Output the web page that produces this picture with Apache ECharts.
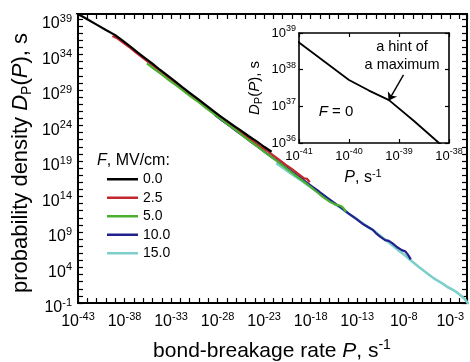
<!DOCTYPE html>
<html><head><meta charset="utf-8">
<script src="https://cdn.jsdelivr.net/npm/echarts@6/dist/echarts.min.js"></script>
<style>html,body{margin:0;padding:0;background:#fff}#c{width:470px;height:362px}</style>
</head><body><div id="c"></div>
<script>
const FONT = '"Liberation Sans", Arial, sans-serif';

// Field strengths (legend) and colours
const fieldLabels = ['0.0', '2.5', '5.0', '10.0', '15.0'];
const fieldColors = ['#000000', '#c1272d', '#4caf2f', '#22208c', '#7dcfcc'];

// log10 of bond-breakage rate P (s^-1) and log10 of D_P(P) (s), main panel
const logP_F0 = [-43.6, -43, -42, -41, -40, -39, -38.2, -37.4, -36.6, -35.8, -35, -34.2, -33.4, -32.6, -31.8, -31, -30.2, -29.4, -28.6, -27.8, -27, -26.2, -25.4, -24.6, -23.8, -23, -22.6, -22.2];
const logD_F0 = [40.15, 39.7, 38.95, 38.2, 37.45, 36.72, 35.95, 35.15, 34.3, 33.5, 32.7, 31.85, 31.05, 30.25, 29.4, 28.6, 27.8, 27.0, 26.2, 25.4, 24.65, 23.9, 23.2, 22.45, 21.75, 21.0, 20.65, 20.3];

const logP_F25 = [-39.3, -38.8, -38.2, -37.5, -36.8, -36.1, -35.4, -34.7, -34, -33.3, -32.6, -31.9, -31.2, -30.5, -29.8, -29.1, -28.4, -27.7, -27, -26.3, -25.6, -24.9, -24.2, -23.5, -22.8, -22.1, -21.4, -20.7, -20, -19.3, -18.7, -18.4, -18.1];
const logD_F25 = [36.6, 36.3, 35.7, 35.05, 34.3, 33.6, 32.9, 32.2, 31.5, 30.8, 30.1, 29.4, 28.7, 27.95, 27.3, 26.6, 25.85, 25.2, 24.5, 23.85, 23.2, 22.45, 21.8, 21.1, 20.55, 19.85, 19.2, 18.5, 17.85, 17.15, 16.55, 16.5, 16.0];

const logP_F5 = [-35.6, -34.8, -34, -33.2, -32.4, -31.6, -30.8, -30, -29.2, -28.4, -27.6, -26.8, -26, -25.2, -24.4, -23.6, -22.8, -22, -21.2, -20.4, -19.6, -18.8, -18, -17.3, -16.7, -16, -15.3, -14.8, -14.5, -14.2];
const logD_F5 = [32.75, 31.95, 31.2, 30.35, 29.6, 28.8, 28.0, 27.25, 26.4, 25.65, 24.85, 24.05, 23.3, 22.45, 21.7, 20.9, 20.1, 19.35, 18.55, 17.75, 16.95, 16.15, 15.35, 14.6, 13.95, 13.3, 12.85, 12.7, 12.4, 11.85];

const logP_F10 = [-28.3, -27.5, -26.7, -25.9, -25.1, -24.3, -23.5, -22.7, -21.9, -21.1, -20.3, -19.5, -18.7, -17.9, -17.1, -16.3, -15.5, -14.7, -13.9, -13.1, -12.3, -11.7, -11.3, -11, -10.5, -10, -9.6, -9.2, -8.7, -8.2, -7.8, -7.5, -7.24];
const logD_F10 = [25.5, 24.7, 23.95, 23.15, 22.4, 21.6, 20.85, 20.05, 19.3, 18.55, 17.8, 17.0, 16.25, 15.45, 14.7, 13.9, 13.15, 12.4, 11.6, 10.85, 10.05, 9.6, 9.3, 8.85, 8.3, 7.85, 7.75, 7.4, 6.85, 6.45, 6.25, 5.7, 5.15];

const logP_F15 = [-21.7, -21, -20.3, -19.6, -18.9, -18.2, -17.5, -16.8, -16, -15.3, -14.6, -13.9, -13.2, -12.5, -11.8, -11.1, -10.6, -10, -9.3, -8.6, -7.9, -7.1, -6.4, -5.7, -5, -4.5, -3.9, -3.3, -2.7, -2.4, -2, -1.5, -1.2, -0.9];
const logD_F15 = [18.7, 18.05, 17.4, 16.75, 16.15, 15.5, 14.85, 14.25, 13.5, 12.85, 12.25, 11.55, 10.95, 10.3, 9.65, 9.05, 8.55, 7.95, 7.2, 6.45, 5.75, 4.85, 4.1, 3.4, 2.7, 2.25, 1.8, 1.25, 0.85, 0.6, 0.2, -0.35, -0.85, -1.4];

// Inset: F = 0 curve
const insetLogP = [-41.2, -41, -40.5, -40, -39.6, -39.2, -38.7, -38.2, -37.9];
const insetLogD = [38.95, 38.74, 38.23, 37.72, 37.43, 37.17, 36.6, 36.0, 35.7];

const seriesP = [logP_F0, logP_F25, logP_F5, logP_F10, logP_F15];
const seriesD = [logD_F0, logD_F25, logD_F5, logD_F10, logD_F15];
const seriesZ = [10, 8, 9, 7, 6];

// Tick labels (exponents of 10)
const xTickExps = [-43, -38, -33, -28, -23, -18, -13, -8, -3];
const yTickExps = [-1, 4, 9, 14, 19, 24, 29, 34, 39];
const insetXTickExps = [-41, -40, -39, -38];
const insetYTickExps = [36, 37, 38, 39];

// Arrow annotation in inset (data coords)
const arrowFrom = [-38.91, 37.86];
const arrowTo = [-39.21, 37.15];

function pairs(p, d) { return p.map((v, i) => [v, d[i]]); }
function powFmt(list) { return v => list.includes(v) ? '{b|10}{s|' + v + '}' : ''; }
function richPow(base, sup, lh, supLh) {
  return {
    b: { fontSize: base, lineHeight: lh, fontFamily: FONT, color: '#000' },
    s: { fontSize: sup, lineHeight: supLh, verticalAlign: 'top', fontFamily: FONT, color: '#000' }
  };
}
function richTitle(size, subSize) {
  return {
    n: { fontSize: size, fontFamily: FONT, color: '#000', lineHeight: size + 4 },
    i: { fontSize: size, fontFamily: FONT, color: '#000', fontStyle: 'italic', lineHeight: size + 4 },
    sub: { fontSize: subSize, fontFamily: FONT, color: '#000', verticalAlign: 'bottom', lineHeight: subSize - 2 },
    sup: { fontSize: subSize, fontFamily: FONT, color: '#000', verticalAlign: 'top', lineHeight: subSize + 4 }
  };
}

const tickStyle = len => ({ show: true, inside: true, length: len, lineStyle: { color: '#000', width: 1.2 } });
const axisLine = w => ({ show: true, onZero: false, lineStyle: { color: '#000', width: w } });

const chart = echarts.init(document.getElementById('c'), null, { renderer: 'canvas' });

const mainSeries = fieldLabels.map((name, i) => ({
  type: 'line', name, xAxisIndex: 0, yAxisIndex: 0,
  data: pairs(seriesP[i], seriesD[i]),
  symbol: 'none', showSymbol: false, color: fieldColors[i],
  lineStyle: { width: i === 4 ? 2.6 : 2.2, color: fieldColors[i] },
  z: seriesZ[i]
}));

const insetSeries = {
  type: 'line', name: 'inset F=0', xAxisIndex: 2, yAxisIndex: 2,
  data: pairs(insetLogP, insetLogD), symbol: 'none', showSymbol: false,
  color: '#000', lineStyle: { width: 1.8, color: '#000' }, z: 20,
  markLine: {
    silent: true, symbol: ['none', 'arrow'], symbolSize: 8, animation: false,
    label: { show: false },
    lineStyle: { color: '#000', width: 1.4, type: 'solid' },
    data: [[{ coord: arrowFrom }, { coord: arrowTo }]]
  }
};

const option = {
  animation: false,
  backgroundColor: '#fff',
  grid: [
    { left: 78, right: 2, top: 14, bottom: 59, show: false },
    { left: 299, top: 33, width: 150, height: 110, show: true, backgroundColor: '#fff', borderWidth: 0, z: 5 }
  ],
  xAxis: [
    { type: 'value', gridIndex: 0, position: 'bottom', min: -43, max: -1.2, interval: 1,
      axisLine: axisLine(2), axisTick: tickStyle(5), splitLine: { show: false },
      axisLabel: { show: true, margin: 8, formatter: powFmt(xTickExps), rich: richPow(16, 11, 22, 10) } },
    { type: 'value', gridIndex: 0, position: 'top', min: -43, max: -1.2, interval: 1,
      axisLine: axisLine(2), axisTick: tickStyle(5), splitLine: { show: false }, axisLabel: { show: false } },
    { type: 'value', gridIndex: 1, position: 'bottom', min: -41, max: -38, interval: 1, z: 6,
      axisLine: axisLine(1.6), axisTick: tickStyle(4), splitLine: { show: false },
      axisLabel: { show: true, margin: 4, formatter: powFmt(insetXTickExps), rich: richPow(13, 9, 18, 8) } },
    { type: 'value', gridIndex: 1, position: 'top', min: -41, max: -38, interval: 1, z: 6,
      axisLine: axisLine(1.6), axisTick: tickStyle(4), splitLine: { show: false }, axisLabel: { show: false } }
  ],
  yAxis: [
    { type: 'value', gridIndex: 0, position: 'left', min: -1, max: 39.7, interval: 1,
      axisLine: axisLine(2), axisTick: tickStyle(5), splitLine: { show: false },
      axisLabel: { show: true, margin: 6, padding: [10, 0, 0, 0], formatter: powFmt(yTickExps), rich: richPow(16, 11, 22, 10) } },
    { type: 'value', gridIndex: 0, position: 'right', min: -1, max: 39.7, interval: 1,
      axisLine: axisLine(2), axisTick: tickStyle(5), splitLine: { show: false }, axisLabel: { show: false } },
    { type: 'value', gridIndex: 1, position: 'left', min: 36, max: 39, interval: 1, z: 6,
      axisLine: axisLine(1.6), axisTick: tickStyle(4), splitLine: { show: false },
      axisLabel: { show: true, margin: 3, formatter: powFmt(insetYTickExps), rich: richPow(13, 9, 18, 8) } },
    { type: 'value', gridIndex: 1, position: 'right', min: 36, max: 39, interval: 1, z: 6,
      axisLine: axisLine(1.6), axisTick: tickStyle(4), splitLine: { show: false }, axisLabel: { show: false } }
  ],
  legend: {
    data: fieldLabels, orient: 'vertical', left: 107, top: 170, padding: 0,
    itemWidth: 31, itemHeight: 2.5, itemGap: 0, icon: 'rect',
    textStyle: { fontSize: 14, lineHeight: 18.5, fontFamily: FONT, color: '#000' }
  },
  graphic: [
    { type: 'text', x: 21, y: 163, rotation: Math.PI / 2, z: 50,
      style: { text: '{n|probability density }{i|D}{sub|P}{n|(}{i|P}{n|), s}', rich: richTitle(22, 14), align: 'center', verticalAlign: 'middle' } },
    { type: 'text', x: 272, y: 351, z: 50,
      style: { text: '{n|bond-breakage rate }{i|P}{n|, s}{sup|-1}', rich: richTitle(21, 14), align: 'center', verticalAlign: 'middle' } },
    { type: 'text', x: 97, y: 161, z: 50,
      style: { text: '{i|F}{n|, MV/cm:}', rich: richTitle(16, 11), align: 'left', verticalAlign: 'middle' } },
    { type: 'text', x: 255, y: 88, rotation: Math.PI / 2, z: 50,
      style: { text: '{i|D}{sub|P}{n|(}{i|P}{n|), s}', rich: richTitle(15, 11), align: 'center', verticalAlign: 'middle' } },
    { type: 'text', x: 363, y: 178, z: 50,
      style: { text: '{i|P}{n|, s}{sup|-1}', rich: richTitle(16, 11), align: 'center', verticalAlign: 'middle' } },
    { type: 'text', x: 336, y: 112, z: 50,
      style: { text: '{i|F}{n| = 0}', rich: richTitle(15, 11), align: 'center', verticalAlign: 'middle' } },
    { type: 'text', x: 402, y: 47, z: 50,
      style: { text: 'a hint of', font: '14.5px ' + FONT, fill: '#000', align: 'center', verticalAlign: 'middle' } },
    { type: 'text', x: 402, y: 65, z: 50,
      style: { text: 'a maximum', font: '14.5px ' + FONT, fill: '#000', align: 'center', verticalAlign: 'middle' } }
  ],
  series: mainSeries.concat([insetSeries])
};
chart.setOption(option);
</script>
</body></html>
